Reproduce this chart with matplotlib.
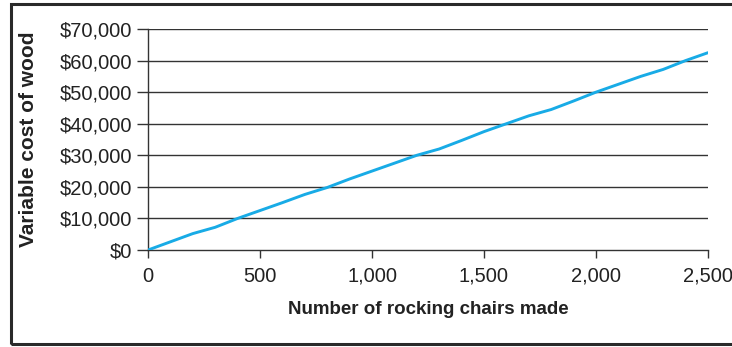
import matplotlib
matplotlib.use('Agg')
import matplotlib.pyplot as plt
from matplotlib.patches import Rectangle
from matplotlib.ticker import FuncFormatter

plt.rcParams['font.family'] = ['Liberation Sans', 'DejaVu Sans']

# wood cost by number of chairs built
chairs = [0, 100, 200, 300, 400, 500, 600, 700, 800, 900, 1000, 1100, 1200,
          1300, 1400, 1500, 1600, 1700, 1800, 1900, 2000, 2100, 2200, 2300, 2400, 2500]
wood_cost = [0, 2600, 5200, 7200, 10000, 12500, 15000, 17600, 19800, 22500, 25000,
             27500, 30000, 32000, 34700, 37500, 40000, 42500, 44500, 47200, 50000,
             52500, 55000, 57200, 60000, 62500]

x_ticks = [0, 500, 1000, 1500, 2000, 2500]
y_ticks = [0, 10000, 20000, 30000, 40000, 50000, 60000, 70000]

fig = plt.figure(figsize=(7.32, 3.47), dpi=100)
ax = fig.add_axes([0.2022, 0.2795, 0.7650, 0.6369])

for v in y_ticks[1:]:
    ax.axhline(v, color='#333333', lw=1.0, zorder=1)
ax.plot(chairs, wood_cost, color='#18abe6', lw=2.1, zorder=3, solid_capstyle='round')

ax.set_xlim(0, 2500)
ax.set_ylim(0, 70000)
ax.set_xticks(x_ticks)
ax.set_yticks(y_ticks)
ax.xaxis.set_major_formatter(FuncFormatter(lambda v, p: f'{int(v):,}'))
ax.yaxis.set_major_formatter(FuncFormatter(lambda v, p: f'${int(v):,}'))
ax.tick_params(axis='y', length=8, width=1.0, color='#333333', labelsize=14.5,
               labelcolor='#222222', pad=3.5)
ax.tick_params(axis='x', length=6, width=1.0, color='#333333', labelsize=14.5,
               labelcolor='#222222', pad=6)

for side in ['top', 'right']:
    ax.spines[side].set_visible(False)
for side in ['left', 'bottom']:
    ax.spines[side].set_color('#333333')
    ax.spines[side].set_linewidth(1.0)

ax.set_xlabel('Number of rocking chairs made', fontsize=13.5, fontweight='bold',
              color='#222222', labelpad=11)
ax.set_ylabel('Variable cost of wood', fontsize=15, fontweight='bold',
              color='#222222')
ax.yaxis.set_label_coords(-0.196, 0.5)

# outer frame (right edge runs past the figure)
fig.patches.append(Rectangle((10.5 / 732, 3.5 / 347), 1.0, 340 / 347,
                             transform=fig.transFigure, fill=False,
                             edgecolor='#2a2a2a', lw=2.2, zorder=0))

fig.savefig('out.png', dpi=100)
